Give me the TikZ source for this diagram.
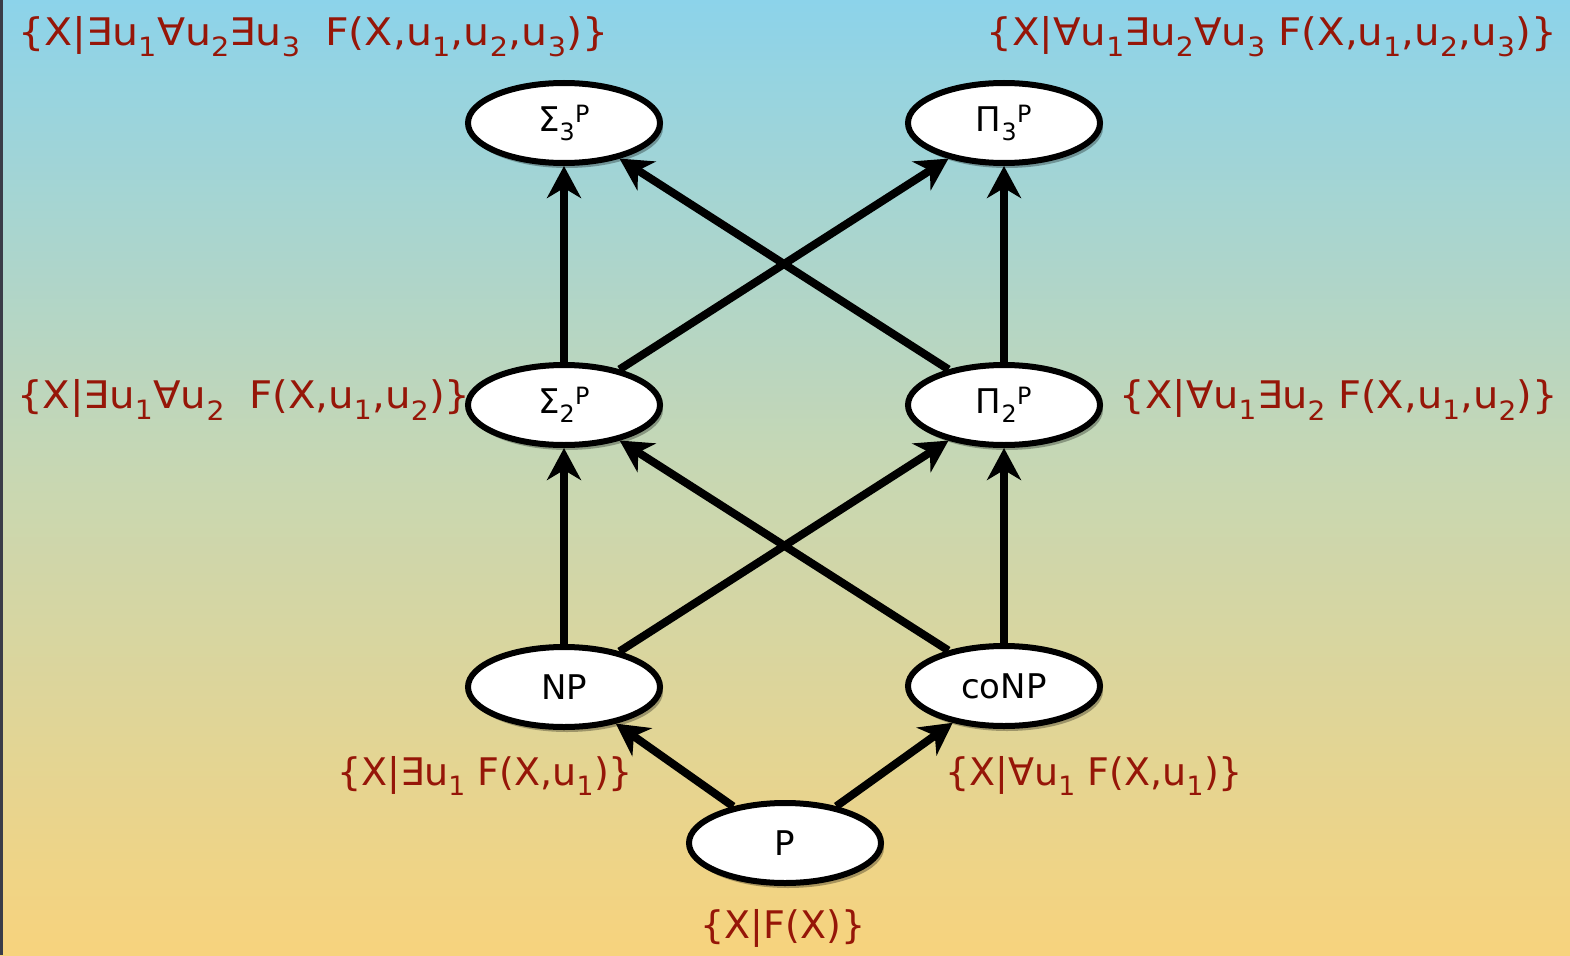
\documentclass[tikz,border=0pt]{standalone}
\usepackage{fontspec}
\setmainfont{DejaVu Sans}
\usetikzlibrary{shapes.geometric,arrows.meta,shadows}
\definecolor{bgtop}{RGB}{140,211,234}
\definecolor{bgmid}{RGB}{200,215,178}
\definecolor{bgbot}{RGB}{247,211,125}
\definecolor{stripc}{RGB}{58,60,72}
\definecolor{lblred}{RGB}{150,22,8}
\newcommand{\sbs}[1]{\textsubscript{#1}}
\begin{document}
\begin{tikzpicture}[x=1pt,y=-1pt,
  cls/.style={ellipse, draw=black, line width=6pt, fill=white,
    minimum width=192pt, minimum height=80pt, inner sep=0pt,
    font=\fontsize{34}{36}\selectfont,
    drop shadow={shadow xshift=3pt, shadow yshift=-5pt, opacity=0.3, fill=black}},
  lbl/.style={text=lblred, font=\fontsize{38}{42}\selectfont, inner sep=0pt},
  arr/.style={line width=8pt, -{Stealth[length=32pt,width=34pt,inset=10pt]}}]
\useasboundingbox (0,0) rectangle (1570,955);
\shade[top color=bgtop, bottom color=bgbot, middle color=bgmid] (0,0) rectangle (1570,955);
\fill[stripc] (0,0) rectangle (3,955);

\node[cls] (S3) at (564,123) {Σ\sbs{3}\textsuperscript{P}};
\node[cls] (P3) at (1004,123) {Π\sbs{3}\textsuperscript{P}};
\node[cls] (S2) at (564,405) {Σ\sbs{2}\textsuperscript{P}};
\node[cls] (P2) at (1004,405) {Π\sbs{2}\textsuperscript{P}};
\node[cls] (NP) at (564,687) {NP};
\node[cls] (coNP) at (1004,686) {coNP};
\node[cls] (P) at (785,843) {P};

\draw[arr] (NP) -- (S2);
\draw[arr] (NP) -- (P2);
\draw[arr] (coNP) -- (S2);
\draw[arr] (coNP) -- (P2);
\draw[arr] (S2) -- (S3);
\draw[arr] (S2) -- (P3);
\draw[arr] (P2) -- (S3);
\draw[arr] (P2) -- (P3);
\draw[arr] (P) -- (NP);
\draw[arr] (P) -- (coNP);

\node[lbl, anchor=west] (l3) at (18,37) {\scalebox{1.08}[1]{\{X|∃u\sbs{1}∀u\sbs{2}∃u\sbs{3}\hspace{0.6em}F(X,u\sbs{1},u\sbs{2},u\sbs{3})\}}};
\node[lbl, anchor=east] (r3) at (1557,37) {\scalebox{1.06}[1]{\{X|∀u\sbs{1}∃u\sbs{2}∀u\sbs{3} F(X,u\sbs{1},u\sbs{2},u\sbs{3})\}}};
\node[lbl, anchor=west] (l2) at (17,400) {\scalebox{1.06}[1]{\{X|∃u\sbs{1}∀u\sbs{2}\hspace{0.6em}F(X,u\sbs{1},u\sbs{2})\}}};
\node[lbl, anchor=east] (r2) at (1558,400) {\scalebox{1.05}[1]{\{X|∀u\sbs{1}∃u\sbs{2} F(X,u\sbs{1},u\sbs{2})\}}};
\node[lbl, anchor=west] (l1) at (337,776) {\{X|∃u\sbs{1} F(X,u\sbs{1})\}};
\node[lbl, anchor=west] (r1) at (945,776) {\{X|∀u\sbs{1} F(X,u\sbs{1})\}};
\node[lbl] (l0) at (783,928) {\{X|F(X)\}};
\end{tikzpicture}
\end{document}
